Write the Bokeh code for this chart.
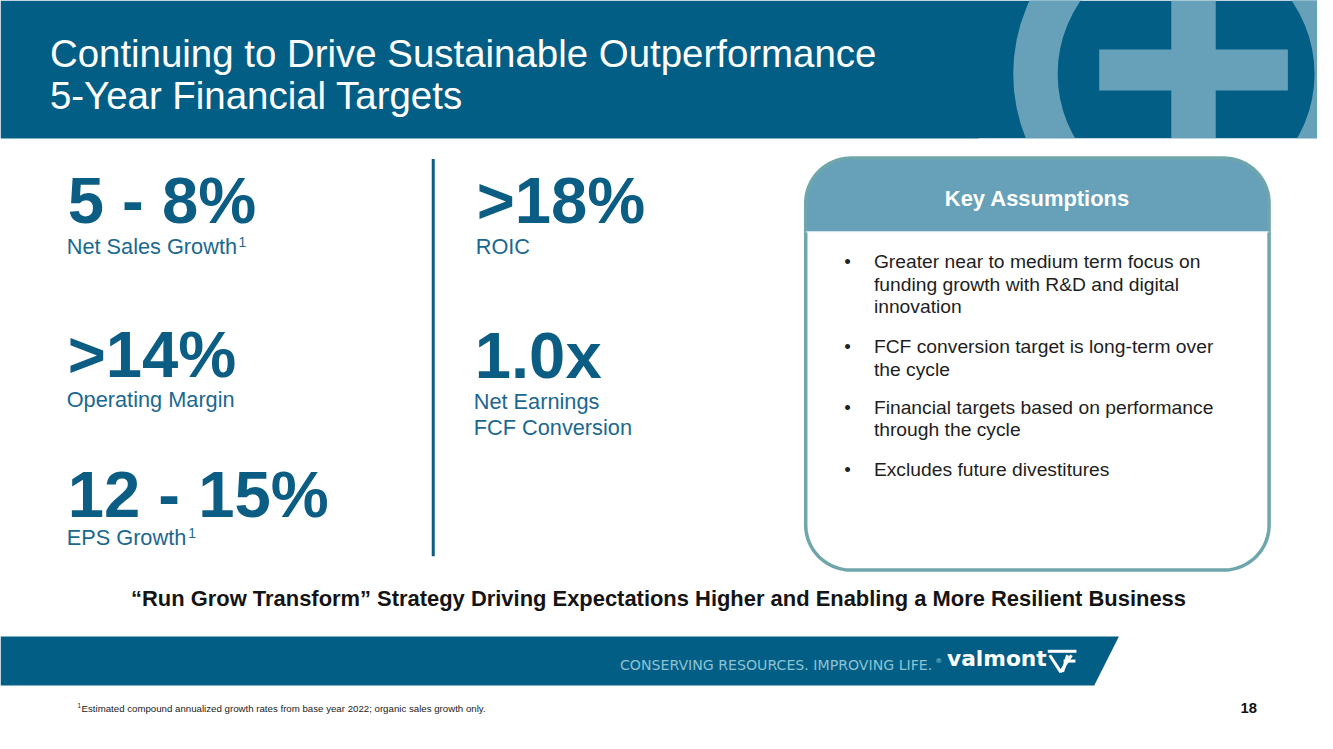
import numpy as np
from bokeh.plotting import figure
from bokeh.models import Range1d
from bokeh.core.properties import value
from bokeh.embed import file_html
from bokeh.resources import INLINE

# ---------------- data (text content) ----------------
title_lines = ["Continuing to Drive Sustainable Outperformance", "5-Year Financial Targets"]
metric_values = ["5 - 8%", ">14%", "12 - 15%", ">18%", "1.0x"]
metric_labels = [["Net Sales Growth"], ["Operating Margin"], ["EPS Growth"], ["ROIC"],
                 ["Net Earnings", "FCF Conversion"]]
metric_footnote = ["1", "", "1", "", ""]
box_title = "Key Assumptions"
assumptions = [
    ["Greater near to medium term focus on", "funding growth with R&D and digital", "innovation"],
    ["FCF conversion target is long-term over", "the cycle"],
    ["Financial targets based on performance", "through the cycle"],
    ["Excludes future divestitures"],
]
statement = "\u201cRun Grow Transform\u201d Strategy Driving Expectations Higher and Enabling a More Resilient Business"
tagline = "CONSERVING RESOURCES. IMPROVING LIFE."
brand = "valmont"
footnote_text = "Estimated compound annualized growth rates from base year 2022; organic sales growth only."
page_number = "18"

# ---------------- styles ----------------
DARK = "#035E86"
LIGHT = "#66A1B9"
NUM = "#0B5D84"
LAB = "#1B6890"
BORDER = "#6FA6AC"
FONT = value("Liberation Sans")
W, H = 1317, 733
S = W / 1333.0

p = figure(width=W, height=H, x_range=Range1d(0, 1333), y_range=Range1d(749, 0),
           output_backend="svg", toolbar_location=None, x_axis_type=None, y_axis_type=None,
           min_border=0, background_fill_color="white", border_fill_color="white")
p.outline_line_color = None
p.grid.visible = False


def txt(x, yb, s, size, color, bold=False, align="left", font=FONT):
    p.text(x=[x], y=[yb - 0.37 * size], text=[s], text_font=font,
           text_font_size=f"{size * S:.2f}px", text_font_style="bold" if bold else "normal",
           text_color=color, text_baseline="alphabetic", text_align=align)


# header band + decorative mark
p.quad(left=[0], right=[1340], top=[0], bottom=[141], color=DARK, line_color=None)
p.annulus(x=[1200], y=[75], inner_radius=130, outer_radius=175, color=LIGHT, line_color=None)
p.quad(left=[1185], right=[1230], top=[0], bottom=[141], color=LIGHT, line_color=None)
p.quad(left=[1112], right=[1303], top=[50], bottom=[92], color=LIGHT, line_color=None)
p.quad(left=[990], right=[1340], top=[141], bottom=[270], color="white", line_color=None)

for i, t in enumerate(title_lines):
    txt(50, 69 + 42 * i, t, 38.9, "white")

# metrics
num_pos = [(68, 229), (68, 386), (68, 529), (482, 229), (480, 387)]
lab_base = [[260], [416], [557], [259], [418, 444]]
sup_x = [241, None, 190, None, None]
for i, v in enumerate(metric_values):
    x, y = num_pos[i]
    txt(x, y, v, 66, NUM, bold=True)
    for j, lab in enumerate(metric_labels[i]):
        txt(x - 1, lab_base[i][j], lab, 22, LAB)
    if metric_footnote[i]:
        txt(sup_x[i], lab_base[i][0] - 8, metric_footnote[i], 14, LAB)

# separator
p.line(x=[438, 438], y=[162, 568], line_color=NUM, line_width=3)


# rounded box
def rounded(x0, y0, x1, y1, r, yh=None, n=24):
    xs, ys = [], []
    a = np.linspace(np.pi, 1.5 * np.pi, n)
    xs += list(x0 + r + r * np.cos(a)); ys += list(y0 + r + r * np.sin(a))
    a = np.linspace(1.5 * np.pi, 2 * np.pi, n)
    xs += list(x1 - r + r * np.cos(a)); ys += list(y0 + r + r * np.sin(a))
    if yh is None:
        a = np.linspace(0, 0.5 * np.pi, n)
        xs += list(x1 - r + r * np.cos(a)); ys += list(y1 - r + r * np.sin(a))
        a = np.linspace(0.5 * np.pi, np.pi, n)
        xs += list(x0 + r + r * np.cos(a)); ys += list(y1 - r + r * np.sin(a))
    else:
        xs += [x1, x0]; ys += [yh, yh]
    return xs, ys


bx0, by0, bx1, by1, br = 815, 161, 1284, 582, 46
xs, ys = rounded(bx0, by0, bx1, by1, br)
p.patch(xs, ys, fill_color="white", line_color=None)
hx, hy = rounded(bx0, by0, bx1, by1, br, yh=236)
p.patch(hx, hy, fill_color=LIGHT, line_color=None)
p.patch(xs, ys, fill_color=None, line_color=BORDER, line_width=3.5)
p.line(x=[bx0, bx1], y=[236.5, 236.5], line_color="#EAF3F5", line_width=1)

txt((bx0 + bx1) / 2, 211, box_title, 22.2, "white", bold=True, align="center")

bullet_base = [274, 361, 423, 486]
for k, lines in enumerate(assumptions):
    y0 = bullet_base[k]
    txt(854, y0, "\u2022", 19, "#222222")
    for j, ln in enumerate(lines):
        txt(884, y0 + 23 * j, ln, 19.5, "#1E1E1E")

# statement
txt(666, 619, statement, 22.2, "#141414", bold=True, align="center")

# bottom band
p.patch([0, 1132, 1107, 0], [650, 650, 700, 700], color=DARK, line_color=None)
txt(627, 684, tagline, 14.3, "#8CC3D4", font=value("DejaVu Sans"))
txt(946, 678, "\u00ae", 7, "#8CC3D4", font=value("DejaVu Sans"))
txt(958, 681, brand, 22, "white", bold=True, font=value("DejaVu Sans"))
# small brand mark
p.multi_line(xs=[[1060, 1089], [1062, 1073, 1084], [1076, 1088], [1080, 1075]],
             ys=[[665, 665], [669, 686, 669], [675, 675], [669, 686]],
             line_color="white", line_width=3)

# footer
txt(78, 723, "1", 6.5, "#222222")
txt(82, 727, footnote_text, 9.8, "#222222")
txt(1255, 729, page_number, 15, "#111111", bold=True)

open("out.html", "w").write(file_html(p, INLINE))
